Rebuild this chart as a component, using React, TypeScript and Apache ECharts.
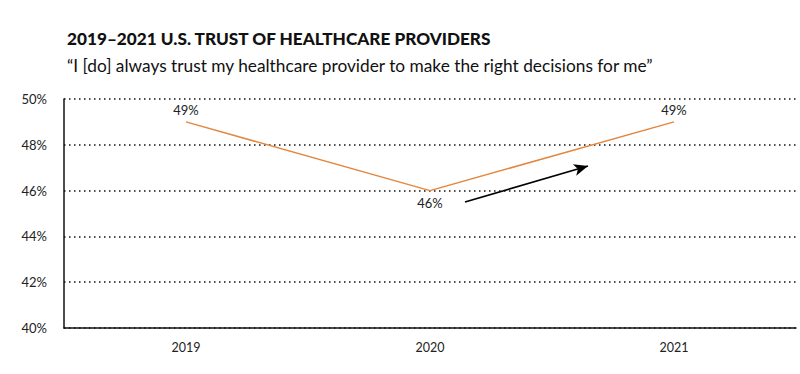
import React, { useEffect, useRef } from "react";
import * as echarts from "echarts";

const categories = ["2019", "2020", "2021"];
const trustValues = [49, 46, 49];
const yTicks = [40, 42, 44, 46, 48, 50];
const labelPositions = ["top", "bottom", "top"];

export default function App() {
  const ref = useRef<HTMLDivElement>(null);
  useEffect(() => {
    const chart = echarts.init(ref.current!, null, { renderer: "svg" });
    chart.setOption({
      animation: false,
      backgroundColor: "#ffffff",
      title: [
        {
          text: "2019–2021 U.S. TRUST OF HEALTHCARE PROVIDERS",
          left: 62,
          top: 25,
          textStyle: { fontFamily: "Lato", fontWeight: 900, fontSize: 17.2, color: "#111" },
        },
        {
          text: "“I [do] always trust my healthcare provider to make the right decisions for me”",
          left: 62,
          top: 52,
          textStyle: { fontFamily: "Lato", fontWeight: 400, fontSize: 17.3, color: "#111" },
        },
      ],
      grid: { left: 64, right: 4, top: 99, bottom: 46 },
      xAxis: {
        type: "category",
        data: categories,
        boundaryGap: true,
        axisLine: { show: true, lineStyle: { color: "#111", width: 1.5 } },
        axisTick: { show: false },
        axisLabel: { fontFamily: "Lato", fontSize: 12.5, color: "#222", margin: 13 },
      },
      yAxis: {
        type: "value",
        min: yTicks[0],
        max: yTicks[yTicks.length - 1],
        interval: 2,
        axisLine: { show: true, lineStyle: { color: "#111", width: 1.5 } },
        axisTick: { show: false },
        axisLabel: { fontFamily: "Lato", fontSize: 13, color: "#222", margin: 17, formatter: "{value}%" },
        splitLine: { show: true, lineStyle: { color: "#111", type: [1.5, 3.5], width: 1.5 } },
      },
      series: [
        {
          type: "line",
          data: trustValues.map((v, i) => ({
            value: v,
            label: { position: labelPositions[i] },
          })),
          symbol: "circle",
          symbolSize: 1,
          showSymbol: true,
          itemStyle: { color: "rgba(0,0,0,0)" },
          lineStyle: { color: "#E4873E", width: 1.5 },
          label: {
            show: true,
            formatter: "{c}%",
            fontFamily: "Lato",
            fontSize: 13,
            color: "#222",
            distance: 5,
          },
          markLine: {
            silent: true,
            symbol: ["none", "arrow"],
            symbolSize: [9, 14],
            label: { show: false },
            lineStyle: { color: "#000", width: 1.8, type: "solid" },
            data: [[{ x: 465, y: 202 }, { x: 588, y: 166 }]],
          },
        },
      ],
    });
    return () => chart.dispose();
  }, []);
  return <div ref={ref} style={{ width: 800, height: 374, position: "absolute", left: 0, top: 0 }} />;
}
